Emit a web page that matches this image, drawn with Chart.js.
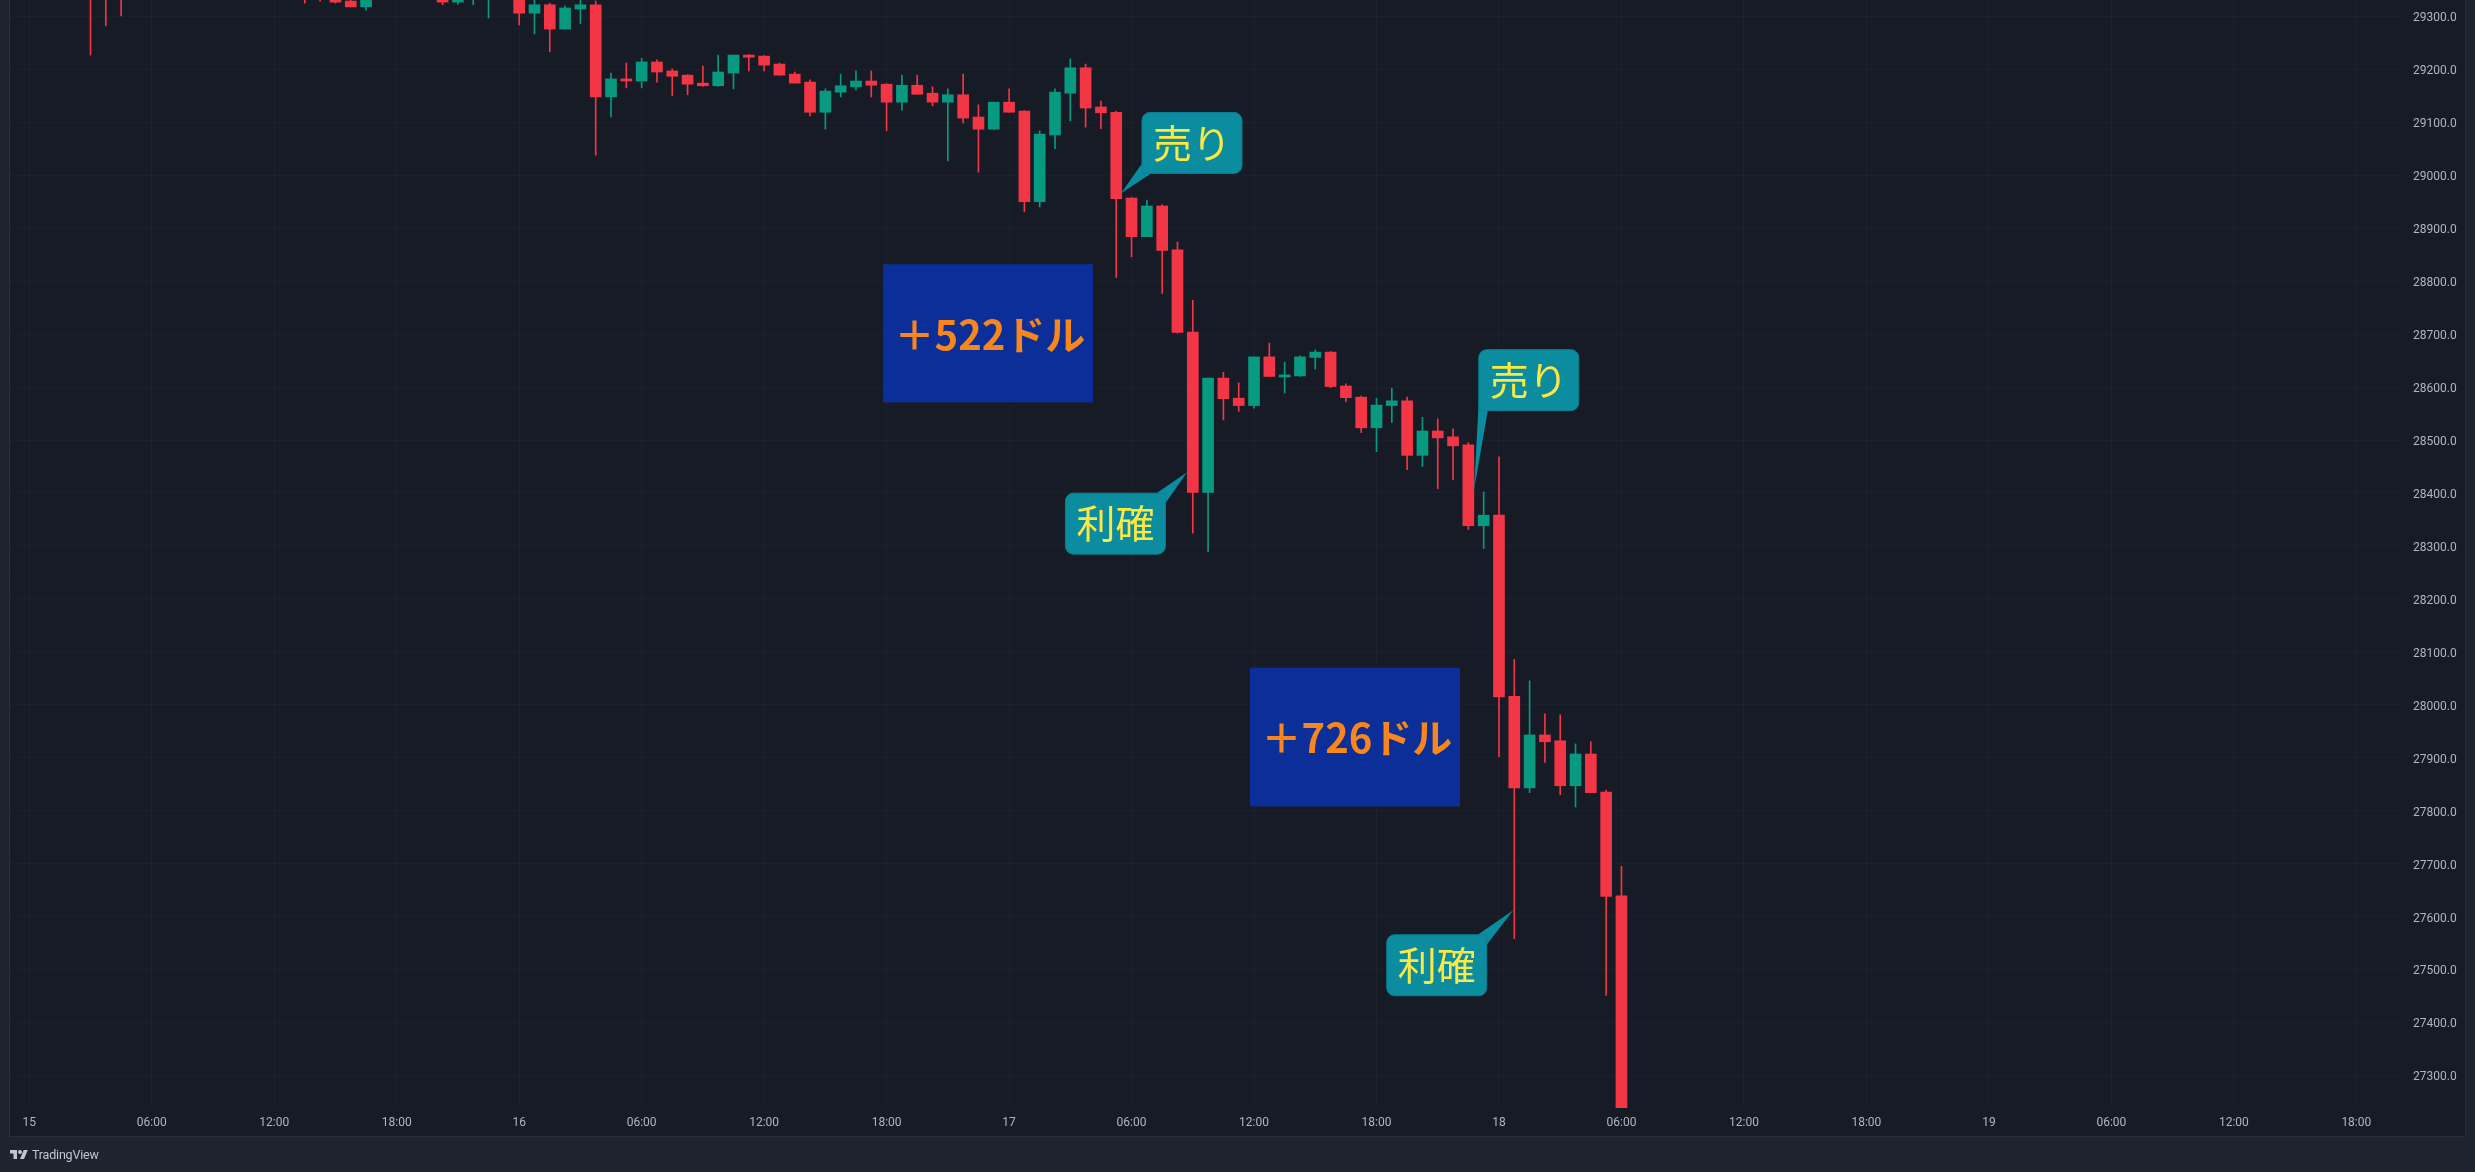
<!DOCTYPE html>
<html lang="ja">
<head>
<meta charset="utf-8">
<title>BTCUSD 45m</title>
<script src="https://cdn.jsdelivr.net/npm/chart.js@4.4.1/dist/chart.umd.min.js"></script>
<style>
  html, body { margin: 0; padding: 0; background: #1f232e; overflow: hidden; }
  #wrap { position: relative; width: 2475px; height: 1172px; }
  #chart { position: absolute; left: 0; top: 0; }
  .brand {
    position: absolute; left: 10px; top: 1147px; height: 14px;
    display: flex; align-items: center; gap: 4px;
    font: 12.5px Roboto, "Noto Sans", sans-serif; color: #c3c6ce; letter-spacing: -0.2px;
  }
</style>
</head>
<body>
<div id="wrap">
  <canvas id="chart" width="2475" height="1172"></canvas>
  <div class="brand">
    <svg width="18" height="9" viewBox="0 4 36 18"><path fill="#c3c6ce" d="M14 22H7V11H0V4h14v18zM28 22h-8l7.5-18h8L28 22z"/><circle fill="#c3c6ce" cx="20" cy="8" r="4"/></svg>
    <span>TradingView</span>
  </div>
</div>
<script>
// 45m candles (day hh:mm)
const candleTimes = [
  '15 03:00', '15 03:45', '15 04:30', '15 13:30', '15 14:15', '15 15:00', '15 15:45', '15 16:30',
  '15 20:15', '15 21:00', '15 21:45', '15 22:30',
  '16 00:00', '16 00:45', '16 01:30', '16 02:15', '16 03:00', '16 03:45', '16 04:30', '16 05:15',
  '16 06:00', '16 06:45', '16 07:30', '16 08:15', '16 09:00', '16 09:45', '16 10:30', '16 11:15',
  '16 12:00', '16 12:45', '16 13:30', '16 14:15', '16 15:00', '16 15:45', '16 16:30', '16 17:15',
  '16 18:00', '16 18:45', '16 19:30', '16 20:15', '16 21:00', '16 21:45', '16 22:30', '16 23:15',
  '17 00:00', '17 00:45', '17 01:30', '17 02:15', '17 03:00', '17 03:45', '17 04:30', '17 05:15',
  '17 06:00', '17 06:45', '17 07:30', '17 08:15', '17 09:00', '17 09:45', '17 10:30', '17 11:15',
  '17 12:00', '17 12:45', '17 13:30', '17 14:15', '17 15:00', '17 15:45', '17 16:30', '17 17:15',
  '17 18:00', '17 18:45', '17 19:30', '17 20:15', '17 21:00', '17 21:45', '17 22:30', '17 23:15',
  '18 00:00', '18 00:45', '18 01:30', '18 02:15', '18 03:00', '18 03:45', '18 04:30', '18 05:15',
  '18 06:00'
];
const openPrices = [
  29420, 29380, 29370, 29370, 29360, 29350, 29329, 29318,
  29350, 29327, 29345, 29340,
  29350, 29306, 29322, 29276, 29314, 29322, 29148, 29182,
  29178, 29214, 29197, 29189, 29174, 29169, 29193, 29227,
  29225, 29210, 29191, 29176, 29119, 29157, 29167, 29178,
  29172, 29138, 29170, 29155, 29138, 29152, 29110, 29087,
  29138, 29121, 28950, 29076, 29155, 29203, 29129, 29119,
  28957, 28884, 28942, 28859, 28704, 28401, 28617, 28579,
  28565, 28657, 28619, 28621, 28656, 28666, 28602, 28581,
  28523, 28565, 28574, 28471, 28517, 28506, 28491, 28338,
  28358, 28016, 27843, 27943, 27932, 27847, 27907, 27835,
  27639
];
const highPrices = [
  29440, 29400, 29390, 29380, 29370, 29360, 29340, 29350,
  29360, 29355, 29370, 29380,
  29360, 29340, 29325, 29320, 29340, 29329, 29193, 29212,
  29221, 29218, 29201, 29190, 29206, 29227, 29227, 29228,
  29226, 29212, 29195, 29180, 29163, 29191, 29197, 29197,
  29173, 29189, 29189, 29167, 29163, 29191, 29133, 29138,
  29163, 29122, 29084, 29163, 29220, 29210, 29140, 29121,
  28958, 28953, 28944, 28874, 28764, 28617, 28628, 28608,
  28657, 28683, 28647, 28659, 28670, 28667, 28606, 28583,
  28579, 28598, 28581, 28543, 28540, 28521, 28495, 28402,
  28468, 28086, 28045, 27983, 27981, 27926, 27930, 27839,
  27695
];
const lowPrices = [
  29227, 29282, 29301, 29325, 29329, 29325, 29318, 29312,
  29322, 29323, 29322, 29297,
  29284, 29267, 29233, 29276, 29286, 29038, 29110, 29165,
  29165, 29176, 29150, 29152, 29168, 29168, 29163, 29197,
  29197, 29189, 29174, 29112, 29087, 29148, 29161, 29148,
  29084, 29123, 29153, 29131, 29027, 29099, 29006, 29087,
  29119, 28931, 28940, 29050, 29103, 29091, 29088, 28807,
  28846, 28884, 28777, 28702, 28324, 28289, 28538, 28554,
  28560, 28620, 28589, 28620, 28634, 28599, 28572, 28514,
  28478, 28533, 28444, 28450, 28408, 28425, 28331, 28295,
  27902, 27558, 27834, 27891, 27830, 27807, 27834, 27451,
  27180
];
const closePrices = [
  29360, 29350, 29345, 29345, 29340, 29327, 29318, 29345,
  29327, 29345, 29360, 29370,
  29306, 29322, 29276, 29316, 29322, 29148, 29182, 29178,
  29214, 29195, 29187, 29172, 29169, 29195, 29227, 29223,
  29208, 29189, 29174, 29119, 29159, 29169, 29178, 29170,
  29138, 29170, 29153, 29138, 29152, 29108, 29087, 29138,
  29119, 28950, 29078, 29157, 29203, 29127, 29118, 28956,
  28884, 28942, 28858, 28703, 28401, 28617, 28578, 28565,
  28657, 28620, 28623, 28657, 28666, 28601, 28580, 28523,
  28566, 28574, 28471, 28517, 28504, 28489, 28338, 28358,
  28015, 27843, 27943, 27930, 27847, 27907, 27834, 27638,
  27190
];

// axis ticks (hours since 15 00:00)
const timeTicks = [0, 6, 12, 18, 24, 30, 36, 42, 48, 54, 60, 66, 72, 78, 84, 90, 96, 102, 108, 114];
const timeTickLabels = ['15', '06:00', '12:00', '18:00', '16', '06:00', '12:00', '18:00', '17', '06:00',
  '12:00', '18:00', '18', '06:00', '12:00', '18:00', '19', '06:00', '12:00', '18:00'];
const priceTicks = [27300, 27400, 27500, 27600, 27700, 27800, 27900, 28000, 28100, 28200, 28300,
  28400, 28500, 28600, 28700, 28800, 28900, 29000, 29100, 29200, 29300];

// callouts
const calloutLabels = ['売り', '利確', '売り', '利確'];
const calloutTipHours = [53.49, 56.72, 70.78, 72.70];
const calloutTipPrices = [28966, 28439, 28406, 27612];
const calloutBoxHours = [56.96, 53.21, 73.46, 68.95];
const calloutBoxPrices = [29061, 28342, 28613, 27508];

// profit boxes
const profitLabels = ['＋522ドル', '＋726ドル'];
const profitFromHours = [41.82, 59.80];
const profitToHours = [52.11, 70.09];
const profitTopPrices = [28832, 28070];
const profitBottomPrices = [28571, 27808];

const UP = '#089981';
const DOWN = '#f23645';

const toHours = s => {
    const [d, t] = s.split(' ');
    const [hh, mm] = t.split(':').map(Number);
    return (Number(d) - 15) * 24 + hh + mm / 60;
};
const hours = candleTimes.map(toHours);
const candleColor = c => closePrices[c.dataIndex] >= openPrices[c.dataIndex] ? UP : DOWN;

const paneBackground = {
    id: 'paneBackground',
    beforeDraw(chart) {
        const { ctx, chartArea, scales } = chart;
        const right = scales.y.right;
        const bottom = scales.x.bottom;
        ctx.save();
        ctx.fillStyle = '#171b26';
        ctx.fillRect(chartArea.left, 0, right - chartArea.left, bottom);
        ctx.strokeStyle = '#2a2e39';
        ctx.lineWidth = 1;
        ctx.beginPath();
        ctx.moveTo(chartArea.left - 0.5, 0);
        ctx.lineTo(chartArea.left - 0.5, bottom + 0.5);
        ctx.lineTo(right + 0.5, bottom + 0.5);
        ctx.lineTo(right + 0.5, 0);
        ctx.stroke();
        ctx.restore();
    }
};

const drawings = {
    id: 'drawings',
    afterDatasetsDraw(chart) {
        const { ctx, chartArea, scales: { x, y } } = chart;
        ctx.save();
        ctx.beginPath();
        ctx.rect(chartArea.left, chartArea.top, chartArea.width, chartArea.height);
        ctx.clip();

        // profit boxes
        profitLabels.forEach((label, i) => {
            const x1 = x.getPixelForValue(profitFromHours[i]);
            const x2 = x.getPixelForValue(profitToHours[i]);
            const y1 = y.getPixelForValue(profitTopPrices[i]);
            const y2 = y.getPixelForValue(profitBottomPrices[i]);
            ctx.fillStyle = '#0c2e99';
            ctx.fillRect(x1, y1, x2 - x1, y2 - y1);
            ctx.fillStyle = '#f7861c';
            ctx.font = 'bold 40px "Noto Sans CJK JP"';
            ctx.textAlign = 'center';
            ctx.textBaseline = 'middle';
            ctx.fillText(label, (x1 + x2) / 2 + 2, (y1 + y2) / 2 + 1);
        });

        // callouts
        const w = 100, h = 61, r = 8;
        calloutLabels.forEach((label, i) => {
            const cx = x.getPixelForValue(calloutBoxHours[i]);
            const cy = y.getPixelForValue(calloutBoxPrices[i]);
            const tx = x.getPixelForValue(calloutTipHours[i]);
            const ty = y.getPixelForValue(calloutTipPrices[i]);
            const left = cx - w / 2, top = cy - h / 2;
            const onLeft = tx < cx, onTop = ty < cy;
            const cornerX = onLeft ? left : left + w;
            const cornerY = onTop ? top : top + h;
            const radii = [
                onLeft && onTop ? 0 : r,
                !onLeft && onTop ? 0 : r,
                !onLeft && !onTop ? 0 : r,
                onLeft && !onTop ? 0 : r
            ];
            ctx.fillStyle = '#0b8c9f';
            ctx.strokeStyle = '#0a7f92';
            ctx.lineWidth = 1;
            ctx.beginPath();
            ctx.roundRect(left, top, w, h, radii);
            ctx.fill();
            ctx.stroke();
            ctx.beginPath();
            ctx.moveTo(cornerX, cornerY + (onTop ? 10 : -10));
            ctx.lineTo(tx, ty);
            ctx.lineTo(cornerX + (onLeft ? 9 : -9), cornerY);
            ctx.lineTo(cornerX, cornerY);
            ctx.closePath();
            ctx.fill();
            ctx.fillStyle = '#fbe845';
            ctx.font = '39px "Noto Sans CJK JP"';
            ctx.textAlign = 'center';
            ctx.textBaseline = 'middle';
            ctx.fillText(label, cx, cy);
        });
        ctx.restore();
    }
};

new Chart(document.getElementById('chart'), {
    type: 'bar',
    data: {
        datasets: [{
            label: 'wick',
            data: hours.map((t, i) => ({ x: t, y: [lowPrices[i], highPrices[i]] })),
            backgroundColor: candleColor,
            barThickness: 1,
            grouped: false,
            clip: 0,
            order: 2
        }, {
            label: 'body',
            data: hours.map((t, i) => ({ x: t, y: [openPrices[i], closePrices[i]] })),
            backgroundColor: candleColor,
            barThickness: 11,
            minBarLength: 1,
            grouped: false,
            clip: 0,
            order: 1
        }]
    },
    options: {
        responsive: false,
        devicePixelRatio: 1,
        animation: false,
        events: [],
        layout: { padding: { left: 10, top: 0, right: 10, bottom: 36 } },
        plugins: { legend: { display: false }, tooltip: { enabled: false } },
        scales: {
            x: {
                type: 'linear',
                position: 'bottom',
                min: -0.9435,
                max: 116.14,
                offset: false,
                grid: { offset: false, color: 'rgba(255,255,255,0.025)', drawTicks: false },
                border: { display: false },
                afterBuildTicks: s => { s.ticks = timeTicks.map(v => ({ value: v })); },
                afterFit: s => { s.height = 28; s.paddingLeft = 0; s.paddingRight = 0; },
                ticks: {
                    autoSkip: false,
                    maxRotation: 0,
                    padding: 8,
                    color: '#b2b5be',
                    font: { family: 'Roboto', size: 12 },
                    callback: (v, i) => timeTickLabels[i]
                }
            },
            y: {
                type: 'linear',
                position: 'right',
                min: 27238.4,
                max: 29331,
                beginAtZero: false,
                grid: { color: 'rgba(255,255,255,0.025)', drawTicks: false },
                border: { display: false },
                afterBuildTicks: s => { s.ticks = priceTicks.map(v => ({ value: v })); },
                afterFit: s => { s.width = 65; s.paddingTop = 0; s.paddingBottom = 0; },
                ticks: {
                    padding: 13,
                    labelOffset: 2,
                    color: '#b2b5be',
                    font: { family: 'Roboto', size: 12 },
                    callback: v => v.toFixed(1)
                }
            }
        }
    },
    plugins: [paneBackground, drawings]
});
</script>
</body>
</html>
